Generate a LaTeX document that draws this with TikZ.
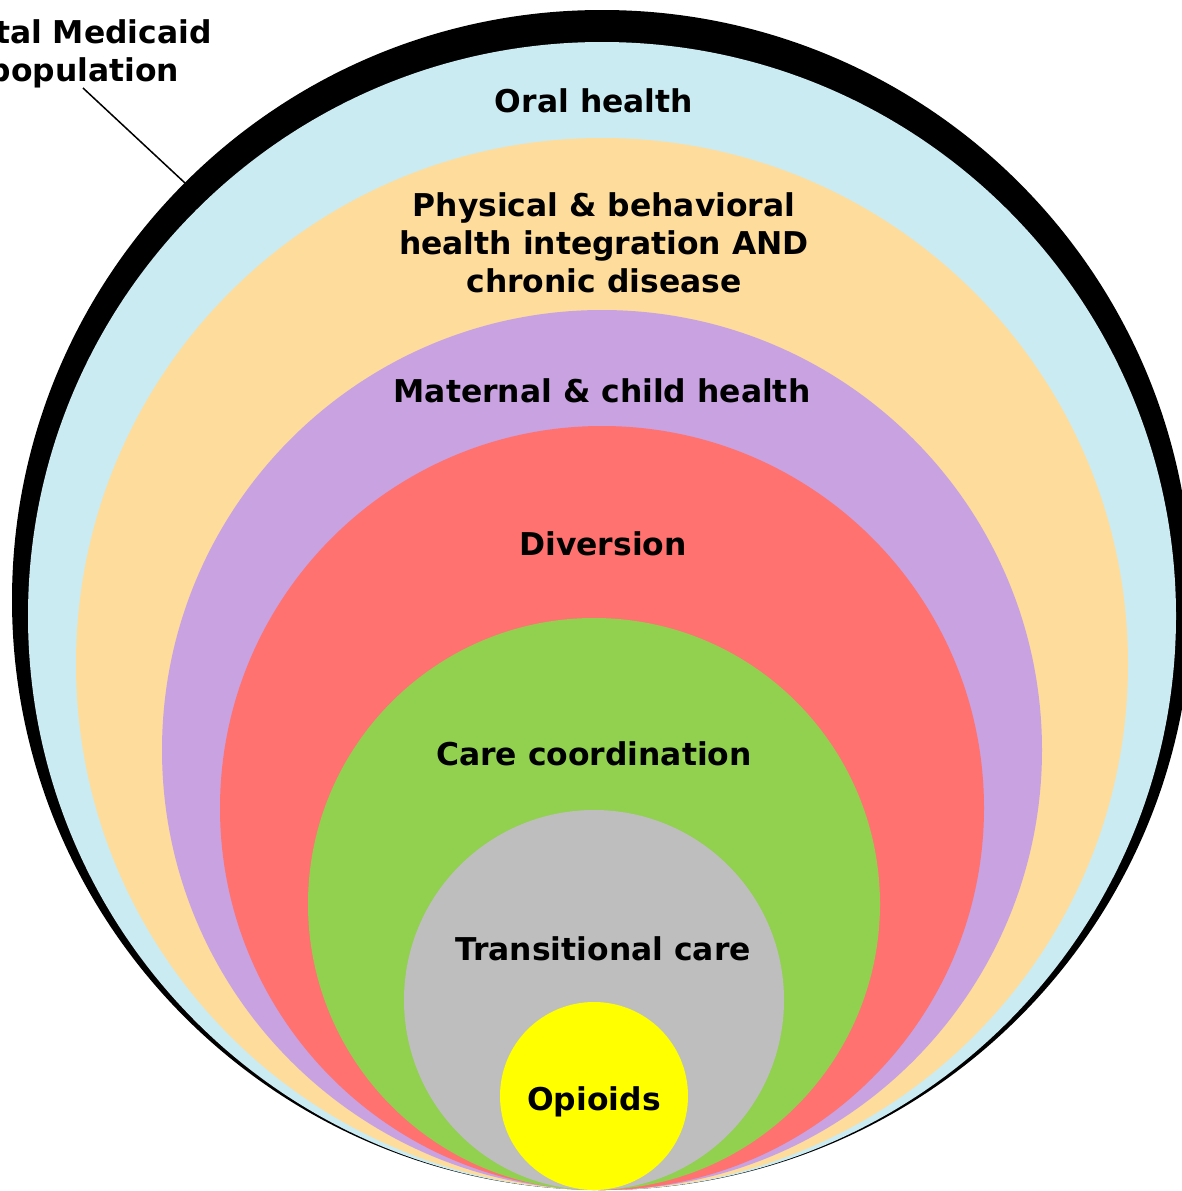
\documentclass[tikz,border=0pt]{standalone}
\usepackage{fontspec}
\setmainfont{DejaVu Sans}
\definecolor{cBlue}{RGB}{203,235,242}
\definecolor{cOrange}{RGB}{254,220,155}
\definecolor{cPurple}{RGB}{200,162,225}
\definecolor{cRed}{RGB}{255,114,112}
\definecolor{cGreen}{RGB}{146,208,80}
\definecolor{cGray}{RGB}{190,190,190}
\definecolor{cYellow}{RGB}{255,255,0}
\begin{document}
\begin{tikzpicture}[x=1pt,y=-1pt,
  lbl/.style={font=\fontsize{31.4}{37.7}\selectfont\bfseries, align=center, inner sep=0pt, anchor=base, text=black},
  leader/.style={draw=black, line width=1.5pt}]
\useasboundingbox (0,0) rectangle (1181,1191);
% nested circles, all touching at the bottom
\fill[black]   (602,600)  circle[radius=590pt];
\fill[cBlue]   (602,616)  circle[radius=574pt];
\fill[cOrange] (602,664)  circle[radius=526pt];
\fill[cPurple] (602,750)  circle[radius=440pt];
\fill[cRed]    (602,808)  circle[radius=382pt];
\fill[cGreen]  (594,904)  circle[radius=286pt];
\fill[cGray]   (594,1000) circle[radius=190pt];
\fill[cYellow] (594,1096) circle[radius=94pt];
% labels (anchor = baseline of last line)
\node[lbl] (oral) at (594,112) {Oral health};
\node[lbl] (phys) at (604,292) {Physical \& behavioral\\health integration AND\\chronic disease};
\node[lbl] (mat)  at (602,402) {Maternal \& child health};
\node[lbl] (div)  at (603,555) {Diversion};
\node[lbl] (care) at (594,765) {Care coordination};
\node[lbl] (trans) at (603,960) {Transitional care};
\node[lbl] (opi)  at (594,1110) {Opioids};
\node[lbl] (total) at (84,81) {Total Medicaid\\population};
% leader line
\coordinate (lstart) at (83,88);
\coordinate (ltip) at (185,183);
\draw[leader] (lstart) -- (ltip);
\end{tikzpicture}
\end{document}
